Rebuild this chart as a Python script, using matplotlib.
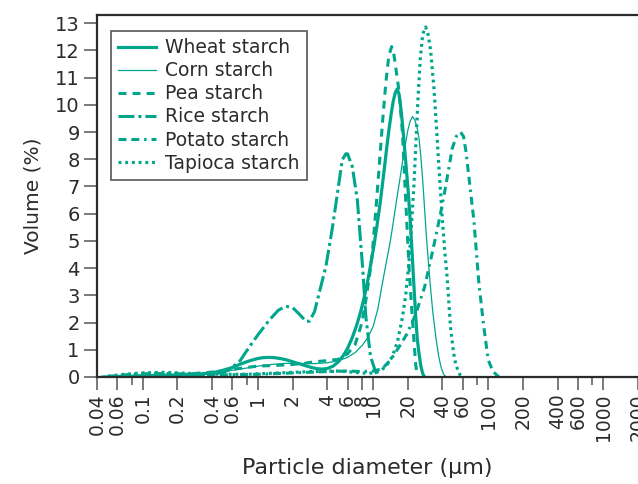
import matplotlib
matplotlib.use("Agg")
import matplotlib.pyplot as plt

# ---------------- data ----------------
wheat_x = [0.045, 0.06, 0.1, 0.2, 0.3, 0.4, 0.5, 0.6, 0.7, 0.8, 0.9, 1.0, 1.1, 1.25, 1.4, 1.6, 1.8, 2.0,
           2.4, 2.8, 3.2, 3.6, 4.0, 4.5, 5.0, 5.5, 6.0, 6.6, 7.2, 7.8, 8.4, 9.0, 9.6, 10.2, 10.8, 11.4,
           12.0, 12.6, 13.2, 13.8, 14.4, 15.0, 15.6, 16.2, 16.8, 17.4, 18.0, 18.7, 19.4, 20.2, 21.0,
           21.8, 22.6, 23.4, 24.2, 25.0, 26.0, 27.0, 28.0]
wheat_y = [0.0, 0.02, 0.04, 0.07, 0.1, 0.15, 0.25, 0.35, 0.47, 0.56, 0.63, 0.68, 0.71, 0.72, 0.71, 0.67,
           0.62, 0.56, 0.46, 0.37, 0.31, 0.29, 0.31, 0.4, 0.56, 0.78, 1.05, 1.45, 1.9, 2.4, 2.95, 3.55,
           4.2, 4.85, 5.55, 6.25, 7.0, 7.75, 8.5, 9.15, 9.7, 10.15, 10.45, 10.58, 10.4, 9.9, 9.3, 8.5,
           7.7, 6.8, 5.8, 4.6, 3.4, 2.3, 1.4, 0.9, 0.4, 0.12, 0.0]

corn_x = [0.05, 0.1, 0.2, 0.4, 0.6, 0.8, 1.0, 1.3, 1.7, 2.2, 3.0, 4.0, 5.0, 6.0, 7.0, 8.0, 9.0, 10.0,
          11.0, 12.0, 13.0, 14.0, 15.0, 16.0, 17.0, 18.0, 19.0, 20.0, 21.0, 22.0, 23.0, 24.0, 25.0,
          26.0, 27.0, 28.0, 29.0, 30.0, 31.5, 33.0, 35.0, 37.0, 39.0, 41.0, 43.0]
corn_y = [0.0, 0.03, 0.07, 0.15, 0.25, 0.33, 0.4, 0.46, 0.5, 0.5, 0.49, 0.52, 0.6, 0.72, 0.9, 1.15,
          1.45, 1.85, 2.5, 3.4, 4.2, 4.9, 5.7, 6.5, 7.2, 7.9, 8.5, 9.05, 9.4, 9.57, 9.45, 9.2, 8.8,
          8.1, 7.2, 6.2, 5.2, 4.4, 3.3, 2.4, 1.5, 0.8, 0.35, 0.1, 0.0]

pea_x = [0.05, 0.1, 0.2, 0.4, 0.6, 0.8, 1.0, 1.5, 2.0, 2.5, 3.0, 3.5, 4.0, 5.0, 6.0, 7.0, 8.0, 8.66,
         9.3, 9.9, 10.6, 11.3, 12.1, 12.9, 13.7, 14.5, 15.1, 15.7, 16.8, 18.0, 19.2, 20.5, 21.9,
         23.4, 24.2]
pea_y = [0.0, 0.04, 0.08, 0.18, 0.28, 0.35, 0.4, 0.43, 0.46, 0.5, 0.55, 0.58, 0.6, 0.65, 0.85, 1.2,
         2.0, 2.83, 3.7, 4.67, 6.2, 7.73, 9.4, 10.8, 11.8, 12.14, 11.9, 11.4, 10.5, 8.96, 6.5, 4.06,
         2.2, 0.5, 0.0]

rice_x = [0.05, 0.1, 0.2, 0.3, 0.4, 0.5, 0.56, 0.7, 0.84, 1.0, 1.26, 1.5, 1.75, 2.0, 2.3, 2.6, 2.8,
          3.1, 3.4, 3.89, 4.44, 5.0, 5.4, 5.8, 6.0, 6.6, 7.3, 8.1, 8.66, 9.5, 10.5, 11.2]
rice_y = [0.0, 0.03, 0.05, 0.07, 0.1, 0.17, 0.26, 0.6, 1.1, 1.55, 2.1, 2.45, 2.6, 2.55, 2.3, 2.05,
          2.05, 2.4, 3.08, 4.06, 5.5, 7.0, 7.98, 8.2, 8.2, 7.73, 6.5, 4.06, 2.2, 0.75, 0.2, 0.0]

potato_x = [0.05, 0.07, 0.1, 0.15, 0.2, 0.3, 0.5, 1.0, 2.0, 3.0, 4.0, 6.0, 8.0, 10.0, 12.0, 14.2,
            16.8, 19.8, 23.4, 28.0, 32.6, 36.0, 38.5, 42.7, 48.7, 53.0, 57.5, 61.0, 64.0, 67.9,
            75.0, 83.0, 91.5, 100.0, 110.0, 124.0]
potato_y = [0.02, 0.08, 0.12, 0.13, 0.12, 0.1, 0.08, 0.1, 0.15, 0.18, 0.2, 0.22, 0.2, 0.22, 0.3,
            0.63, 1.1, 1.6, 2.3, 3.3, 4.55, 5.4, 6.0, 7.0, 8.4, 8.85, 9.0, 8.84, 8.3, 7.36, 5.77,
            3.44, 1.85, 0.63, 0.2, 0.0]

tapioca_x = [0.05, 0.07, 0.1, 0.15, 0.2, 0.3, 0.5, 0.8, 1.2, 2.0, 3.0, 5.1, 7.5, 9.2, 11.3, 12.9,
             14.7, 16.3, 18.0, 19.2, 20.5, 21.5, 22.6, 23.6, 24.6, 25.7, 27.0, 28.6, 30.0, 31.6,
             33.8, 35.5, 37.3, 39.8, 42.0, 44.1, 47.0, 50.0, 52.0, 55.0, 57.5, 59.0]
tapioca_y = [0.03, 0.1, 0.15, 0.17, 0.15, 0.12, 0.1, 0.1, 0.13, 0.17, 0.2, 0.22, 0.16, 0.13, 0.2,
             0.38, 0.75, 1.3, 2.2, 3.0, 4.2, 5.5, 7.0, 8.7, 10.3, 11.7, 12.6, 12.86, 12.6, 12.0,
             10.6, 9.2, 7.73, 5.9, 4.6, 3.6, 1.85, 0.9, 0.5, 0.2, 0.05, 0.0]

series_labels = ["Wheat starch", "Corn starch", "Pea starch", "Rice starch", "Potato starch",
                 "Tapioca starch"]

xtick_values = [0.04, 0.06, 0.1, 0.2, 0.4, 0.6, 1, 2, 4, 6, 8, 10, 20, 40, 60, 100, 200, 400, 600,
                1000, 2000]
xtick_labels = ["0.04", "0.06", "0.1", "0.2", "0.4", "0.6", "1", "2", "4", "6", "8", "10", "20",
                "40", "60", "100", "200", "400", "600", "1000", "2000"]
xminor_values = [0.08, 0.8, 80, 800]
ytick_values = list(range(0, 14))

# ---------------- style ----------------
teal = "#00a68c"
dark = "#2b2b2b"
plt.rcParams['font.family'] = ['DejaVu Sans']

fig = plt.figure(figsize=(6.38, 4.84), dpi=100)
ax = fig.add_axes([97 / 638, (484 - 377) / 484, 541 / 638, 362 / 484])

ax.plot(wheat_x, wheat_y, color=teal, lw=2.3, ls='-', label=series_labels[0])
ax.plot(corn_x, corn_y, color=teal, lw=0.9, ls='-', label=series_labels[1])
ax.plot(pea_x, pea_y, color=teal, lw=2.2, ls=(0, (2.6, 2.0)), label=series_labels[2])
ax.plot(rice_x, rice_y, color=teal, lw=2.2, ls=(0, (5.2, 1.3, 1.0, 1.3)), label=series_labels[3])
ax.plot(potato_x, potato_y, color=teal, lw=2.2,
        ls=(0, (2.6, 1.6, 2.6, 1.6, 0.8, 1.6)), label=series_labels[4])
ax.plot(tapioca_x, tapioca_y, color=teal, lw=2.3, ls=(0, (0.9, 1.2)), label=series_labels[5])

ax.set_xscale('log')
ax.set_xlim(0.04, 1940)
ax.set_ylim(0, 13.3)

ax.set_xticks(xtick_values)
ax.set_xticklabels(xtick_labels, rotation=90)
ax.set_xticks(xminor_values, minor=True)
ax.xaxis.set_minor_formatter(matplotlib.ticker.NullFormatter())
ax.set_yticks(ytick_values)
ax.set_yticklabels([str(v) for v in ytick_values])

ax.tick_params(axis='x', which='major', direction='out', length=9.5, width=1.1, color='#555555',
               labelsize=13.5, labelcolor=dark, pad=2.5)
ax.tick_params(axis='x', which='minor', direction='out', length=5.5, width=1.1, color='#555555')
ax.tick_params(axis='y', which='major', direction='out', length=9.5, width=1.1, color='#555555',
               labelsize=14, labelcolor=dark, pad=3)

for s in ['left', 'bottom', 'top']:
    ax.spines[s].set_linewidth(1.6)
    ax.spines[s].set_color(dark)
ax.spines['right'].set_visible(False)

ax.set_xlabel("Particle diameter (\u03bcm)", fontsize=16, color=dark, labelpad=12)
ax.set_ylabel("Volume (%)", fontsize=14.5, color=dark, labelpad=9)

leg = ax.legend(loc='upper left', bbox_to_anchor=(0.025, 0.957), borderaxespad=0,
                fontsize=13.5, frameon=True, fancybox=False, shadow=False, handlelength=2.0,
                handletextpad=0.5, labelspacing=0.22, borderpad=0.4)
leg.get_frame().set_edgecolor(dark)
leg.get_frame().set_linewidth(1.2)
for t in leg.get_texts():
    t.set_color(dark)

fig.savefig("out.png", dpi=100)
